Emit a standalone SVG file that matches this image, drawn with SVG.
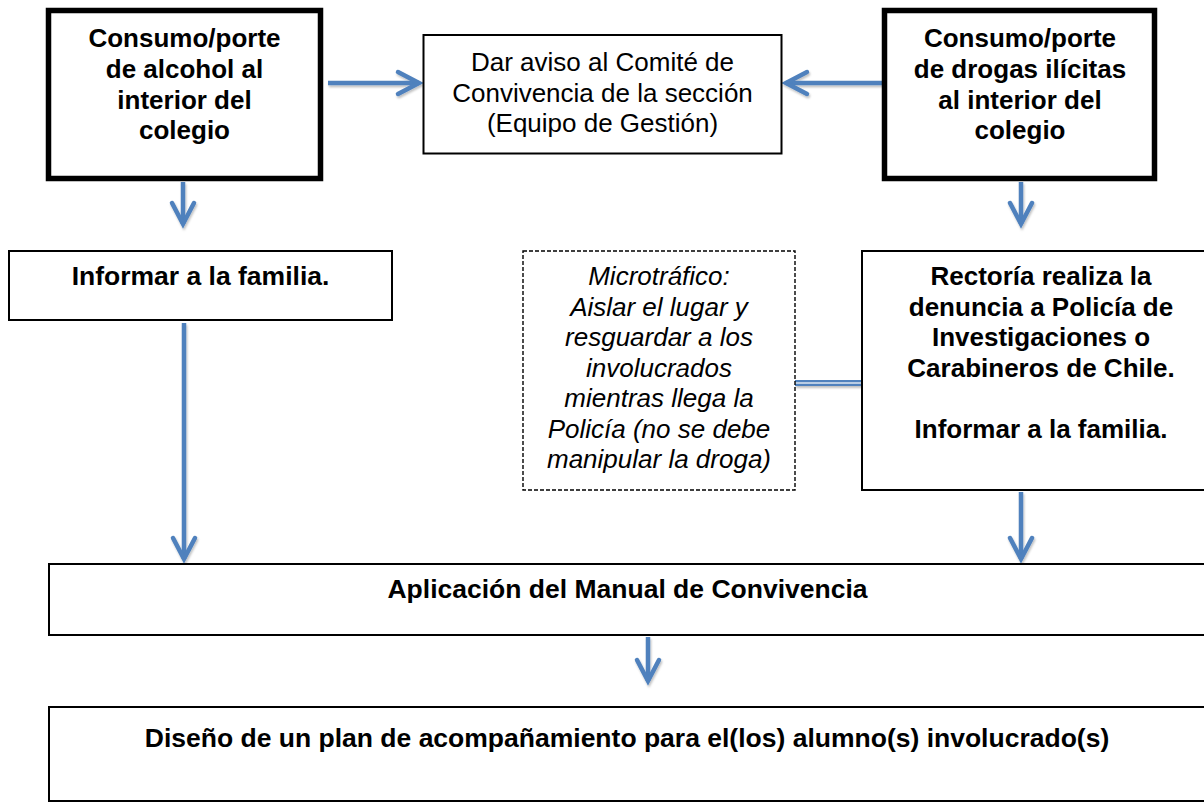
<svg xmlns="http://www.w3.org/2000/svg" width="1204" height="803" viewBox="0 0 1204 803">
<style>
.box{fill:#fff;stroke:#000;stroke-width:2}
.thick{fill:#fff;stroke:#000;stroke-width:5.5}
.dash{fill:#fff;stroke:#000;stroke-width:1.4;stroke-dasharray:4 2}
.t{font-family:"Liberation Sans",Arial,sans-serif;font-size:26px;text-anchor:middle;fill:#000}
.b{font-weight:bold}
.i{font-style:italic}
.w{font-size:26.5px}
.arr{stroke:#4F81BD;stroke-width:4.5;fill:none;marker-end:url(#head)}
</style>
<defs>
<filter id="sh" x="-20%" y="-20%" width="140%" height="140%">
<feDropShadow dx="1" dy="2" stdDeviation="1.2" flood-color="#000" flood-opacity="0.25"/>
</filter>
<marker id="head" markerUnits="userSpaceOnUse" markerWidth="40" markerHeight="40" viewBox="-30 -20 40 40" refX="0" refY="0" orient="auto">
<path d="M-21,-11 L0,0 L-21,11" fill="none" stroke="#4F81BD" stroke-width="4.5" stroke-linecap="round" stroke-linejoin="miter"/>
</marker>
</defs>
<rect width="1204" height="803" fill="#fff"/>
<g id="connectors" filter="url(#sh)">
<line class="arr" x1="328" y1="83" x2="419" y2="83"/>
<line class="arr" x1="888" y1="83" x2="786" y2="83"/>
<line class="arr" x1="183" y1="182" x2="183" y2="224"/>
<line class="arr" x1="1021" y1="182" x2="1021" y2="224"/>
<line class="arr" x1="184" y1="323" x2="184" y2="559"/>
<line class="arr" x1="1021" y1="492" x2="1021" y2="559"/>
<line class="arr" x1="648" y1="637" x2="648" y2="681"/>
<line x1="795" y1="383" x2="862" y2="383" stroke="#4F81BD" stroke-width="6"/>
<line x1="795" y1="383" x2="862" y2="383" stroke="#B8CCE4" stroke-width="2"/>
</g>
<g id="n-alcohol">
<rect class="thick" x="48.5" y="10.5" width="272" height="168"/>
<text class="t b" x="184.5" y="47">Consumo/porte</text>
<text class="t b" x="184.5" y="78">de alcohol al</text>
<text class="t b" x="184.5" y="109">interior del</text>
<text class="t b" x="184.5" y="139">colegio</text>
</g>
<g id="n-aviso">
<rect class="box" x="423.5" y="35" width="358" height="118.5"/>
<text class="t" x="602.5" y="71">Dar aviso al Comité de</text>
<text class="t" x="602.5" y="101.5">Convivencia de la sección</text>
<text class="t" x="602.5" y="132">(Equipo de Gestión)</text>
</g>
<g id="n-drogas">
<rect class="thick" x="884.5" y="10.5" width="270" height="168"/>
<text class="t b" x="1020" y="47">Consumo/porte</text>
<text class="t b" x="1020" y="78">de drogas ilícitas</text>
<text class="t b" x="1020" y="109">al interior del</text>
<text class="t b" x="1020" y="139">colegio</text>
</g>
<g id="n-informar">
<rect class="box" x="9" y="251" width="383" height="69"/>
<text class="t b w" x="200.5" y="285">Informar a la familia.</text>
</g>
<g id="n-microtrafico">
<rect class="dash" x="523" y="251" width="272" height="239"/>
<text class="t i" x="659" y="285">Microtráfico:</text>
<text class="t i" x="659" y="315.5">Aislar el lugar y</text>
<text class="t i" x="659" y="346">resguardar a los</text>
<text class="t i" x="659" y="376.5">involucrados</text>
<text class="t i" x="659" y="407">mientras llega la</text>
<text class="t i" x="659" y="437.5">Policía (no se debe</text>
<text class="t i" x="659" y="468">manipular la droga)</text>
</g>
<g id="n-rectoria">
<rect class="box" x="862" y="251" width="360" height="239"/>
<text class="t b" x="1041" y="285">Rectoría realiza la</text>
<text class="t b" x="1041" y="315.5">denuncia a Policía de</text>
<text class="t b" x="1041" y="346">Investigaciones o</text>
<text class="t b" x="1041" y="376.5">Carabineros de Chile.</text>
<text class="t b" x="1041" y="438">Informar a la familia.</text>
</g>
<g id="n-manual">
<rect class="box" x="49" y="564" width="1165" height="71"/>
<text class="t b w" x="627.5" y="598">Aplicación del Manual de Convivencia</text>
</g>
<g id="n-plan">
<rect class="box" x="49" y="707" width="1165" height="94"/>
<text class="t b w" x="627" y="747">Diseño de un plan de acompañamiento para el(los) alumno(s) involucrado(s)</text>
</g>
</svg>
